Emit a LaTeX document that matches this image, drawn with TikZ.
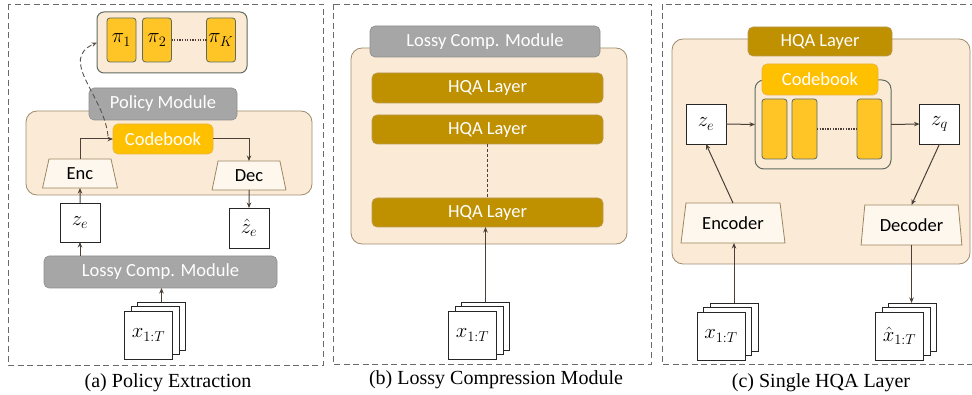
\documentclass[tikz,border=0pt]{standalone}
\usepackage{fontspec}
\setmainfont{Carlito}
\newfontfamily\capfont{Liberation Serif}
\usetikzlibrary{arrows.meta,shapes.geometric}

\definecolor{beige}{HTML}{FBEBD6}
\definecolor{brn}{HTML}{9C8B6E}
\definecolor{grayf}{HTML}{A6A6A6}
\definecolor{grayd}{HTML}{8E8E8E}
\definecolor{gold}{HTML}{FFC000}
\definecolor{goldd}{HTML}{E8B33A}
\definecolor{hqa}{HTML}{BF9000}
\definecolor{hqad}{HTML}{B89A55}
\definecolor{vec}{HTML}{FFC526}
\definecolor{vecd}{HTML}{5F6B5F}
\definecolor{trapf}{HTML}{FEF7EE}
\definecolor{trapd}{HTML}{9C8560}
\definecolor{arrc}{HTML}{4A4038}
\definecolor{panelc}{HTML}{6A6A6A}

\tikzset{
  base/.style={inner sep=0pt, outer sep=0pt, font=\fontsize{18.5}{20}\selectfont},
  panel/.style={draw=panelc, dash pattern=on 6pt off 3.5pt, line width=0.9pt},
  beigebox/.style={base, draw=brn, fill=beige, rounded corners=11pt, line width=0.8pt},
  polbox/.style={base, draw=vecd, fill=beige, rounded corners=7pt, line width=1pt},
  graybox/.style={base, fill=grayf, draw=grayd, rounded corners=5pt, text=white, line width=0.6pt},
  goldbox/.style={base, fill=gold, draw=goldd, rounded corners=5pt, text=white, line width=0.6pt},
  hqabox/.style={base, fill=hqa, draw=hqad, rounded corners=5pt, text=white, line width=0.6pt},
  vecbox/.style={base, fill=vec, draw=vecd, rounded corners=3pt, line width=0.8pt, font=\fontsize{22}{24}\selectfont},
  sqbox/.style={base, draw=black!85, fill=white, line width=0.9pt, font=\fontsize{22}{24}\selectfont},
  trap/.style={base, trapezium, trapezium stretches=true, trapezium angle=77,
               draw=trapd, fill=trapf, line width=0.8pt},
  arr/.style={-{Stealth[length=5.5pt,width=4.5pt]}, draw=arrc, line width=1pt},
  dasharr/.style={-{Stealth[length=5.5pt,width=4.5pt]}, draw=arrc!90, line width=0.9pt, dash pattern=on 5pt off 3pt},
  caption/.style={inner sep=0pt, font=\capfont\fontsize{20}{22}\selectfont},
}

\begin{document}
\begin{tikzpicture}[x=1pt,y=-1pt]
\useasboundingbox (0,0) rectangle (972,395);

% ---------------- (a) policy extraction ----------------
\draw[panel] (8,4) rectangle (323,365);

\node[polbox, minimum width=150pt, minimum height=61pt] (polset) at (172,42.5) {};
\node[vecbox, minimum width=29pt, minimum height=44pt] (pi1) at (121.5,40) {$\pi_1$};
\node[vecbox, minimum width=29pt, minimum height=44pt] (pi2) at (157,40) {$\pi_2$};
\node[vecbox, minimum width=29pt, minimum height=44pt] (piK) at (221,40) {$\pi_K$};
\draw[arrc, line width=1.3pt, dash pattern=on 1.3pt off 1.3pt] (pi2.east) -- (piK.west);

\node[beigebox, minimum width=286pt, minimum height=84pt] (encdec) at (169,153) {};
\node[graybox, minimum width=148pt, minimum height=32pt] (policy) at (163,104) {Policy Module};
\node[goldbox, minimum width=100pt, minimum height=30pt] (cba) at (163,139) {Codebook};
\node[trap, minimum width=75pt, minimum height=29pt] (enc) at (80,173.5) {Enc};
\node[trap, minimum width=74pt, minimum height=29pt] (dec) at (249,175.5) {Dec};

\node[sqbox, minimum width=40pt, minimum height=39pt] (zea) at (80,222.5) {$z_e$};
\node[sqbox, minimum width=40pt, minimum height=40pt] (zhat) at (249,228) {$\hat{z}_e$};
\node[graybox, minimum width=233pt, minimum height=32pt] (lossya) at (160.5,272) {Lossy Comp. Module};

\node[sqbox, minimum width=48pt, minimum height=48pt] (xa3) at (161.5,326) {};
\node[sqbox, minimum width=48pt, minimum height=48pt] (xa2) at (155,330.5) {};
\node[sqbox, minimum width=48pt, minimum height=48pt] (xa1) at (148.5,335) {$x_{1:T}$};

\draw[arr] (enc.north) |- (cba.west);
\draw[arr] (cba.east) -| (dec.north);
\draw[arr] (zea.north) -- (enc.south);
\draw[arr] (dec.south) -- (zhat.north);
\draw[arr] (lossya.north -| zea.south) -- (zea.south);
\draw[arr] (xa3.north) -- (xa3.north |- lossya.south);
\coordinate (dstart) at (108,136);
\draw[dasharr] (dstart) .. controls (104,95) and (58,60) .. (polset.west);

\node[caption] (capa) at (168,383) {(a) Policy Extraction};

% ---------------- (b) lossy compression module ----------------
\draw[panel] (333,4) rectangle (651,364);

\node[beigebox, minimum width=276pt, minimum height=196pt] (lossyb) at (489,146) {};
\node[graybox, minimum width=230pt, minimum height=31pt] (lossyt) at (485,41.5) {Lossy Comp. Module};
\node[hqabox, minimum width=231pt, minimum height=30pt] (h1) at (487.5,88) {HQA Layer};
\node[hqabox, minimum width=231pt, minimum height=29pt] (h2) at (487.5,129.5) {HQA Layer};
\node[hqabox, minimum width=231pt, minimum height=29pt] (h3) at (487.5,212.5) {HQA Layer};
\draw[arrc, line width=0.9pt, dash pattern=on 3pt off 2pt] (h2.south) -- (h3.north);

\node[sqbox, minimum width=48pt, minimum height=48pt] (xb3) at (485.5,326) {};
\node[sqbox, minimum width=48pt, minimum height=48pt] (xb2) at (479,330.5) {};
\node[sqbox, minimum width=48pt, minimum height=48pt] (xb1) at (472.5,335) {$x_{1:T}$};
\draw[arr] (xb3.north) -- (xb3.north |- h3.south);

\node[caption] (capb) at (496,380) {(b) Lossy Compression Module};

% ---------------- (c) single HQA layer ----------------
\draw[panel] (985,4) -- (662,4) -- (662,364) -- (985,364);

\node[beigebox, minimum width=298pt, minimum height=225pt] (layer) at (821,151.5) {};
\node[hqabox, minimum width=144pt, minimum height=29pt] (hqat) at (820,41.5) {HQA Layer};
\node[polbox, minimum width=136pt, minimum height=89pt, rounded corners=9pt] (cbc) at (823,124.5) {};
\node[goldbox, minimum width=116pt, minimum height=31pt] (cbl) at (820,79.5) {Codebook};
\node[vecbox, minimum width=25pt, minimum height=60pt] (v1) at (774.5,129) {};
\node[vecbox, minimum width=25pt, minimum height=60pt] (v2) at (804.5,129) {};
\node[vecbox, minimum width=25pt, minimum height=60pt] (vK) at (869.5,129) {};
\draw[arrc, line width=1.3pt, dash pattern=on 1.3pt off 1.3pt] (v2.east) -- (vK.west);

\node[sqbox, minimum width=40pt, minimum height=40pt] (zec) at (706,124) {$z_e$};
\node[sqbox, minimum width=40pt, minimum height=40pt] (zq) at (939.5,124) {$z_q$};
\node[trap, minimum width=104pt, minimum height=40pt, trapezium angle=76] (encoder) at (733,223) {Encoder};
\node[trap, minimum width=101pt, minimum height=40pt, trapezium angle=79] (decoder) at (911.5,225) {Decoder};

\node[sqbox, minimum width=48pt, minimum height=48pt] (xc3) at (734,327) {};
\node[sqbox, minimum width=48pt, minimum height=48pt] (xc2) at (727.5,331.5) {};
\node[sqbox, minimum width=48pt, minimum height=48pt] (xc1) at (721,336) {$x_{1:T}$};
\node[sqbox, minimum width=48pt, minimum height=48pt] (xh3) at (912.5,327) {};
\node[sqbox, minimum width=48pt, minimum height=48pt] (xh2) at (906,331.5) {};
\node[sqbox, minimum width=48pt, minimum height=48pt] (xh1) at (899.5,336) {$\hat{x}_{1:T}$};

\draw[arr] (zec.east) -- (cbc.west);
\draw[arr] (cbc.east) -- (zq.west);
\draw[arr] (encoder.north) -- (zec.south);
\draw[arr] (zq.south) -- (decoder.north);
\draw[arr] (xc3.north) -- (xc3.north |- encoder.south);
\draw[arr] (decoder.south) -- (decoder.south |- xh3.north);

\node[caption] (capc) at (821,383) {(c) Single HQA Layer};
\end{tikzpicture}
\end{document}
